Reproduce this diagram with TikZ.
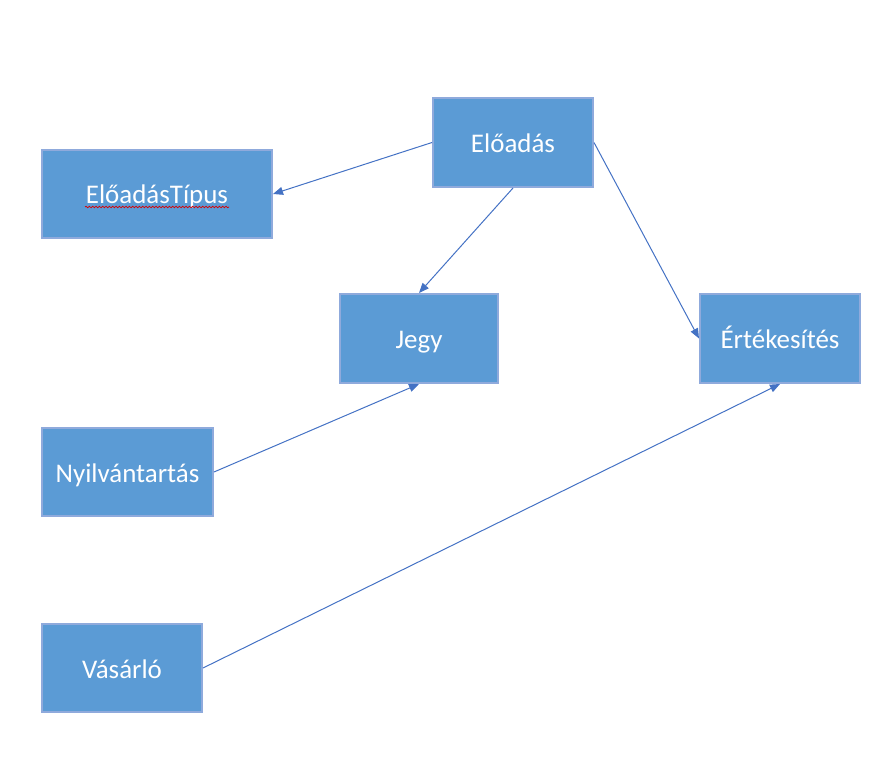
\documentclass[tikz,border=0pt]{standalone}
\usepackage{fontspec}
\setmainfont{Carlito}
\usetikzlibrary{arrows.meta,decorations.pathmorphing}
\definecolor{boxfill}{HTML}{5B9BD5}
\definecolor{boxline}{HTML}{8FAADC}
\definecolor{arrowcol}{HTML}{4472C4}
\begin{document}
\begin{tikzpicture}[x=0.75pt,y=-0.75pt,
  ent/.style={draw=boxline, line width=1.5pt, fill=boxfill, text=white,
    font=\fontsize{20.2}{24}\selectfont, inner sep=0pt, anchor=north west,
    text height=16pt, text depth=1pt},
  conn/.style={draw=arrowcol, line width=0.75pt, -{Triangle[length=7.5pt,width=6pt]}}]
\useasboundingbox (0,0) rectangle (892,766);
\node[ent, minimum width=160*0.75pt, minimum height=89*0.75pt] (eloadas) at (432,97) {Előadás};
\node[ent, minimum width=230*0.75pt, minimum height=88*0.75pt] (tipus) at (41,149) {ElőadásTípus};
\node[ent, minimum width=158*0.75pt, minimum height=89*0.75pt] (jegy) at (339,293) {Jegy};
\node[ent, minimum width=160*0.75pt, minimum height=89*0.75pt] (ert) at (699,293) {Értékesítés};
\node[ent, minimum width=171*0.75pt, minimum height=88*0.75pt] (nyil) at (41,427) {Nyilvántartás};
\node[ent, minimum width=160*0.75pt, minimum height=88*0.75pt] (vas) at (41,623) {Vásárló};
\coordinate (sq1) at (85,207);
\coordinate (sq2) at (229,207);
\draw[red!85!black, line width=0.5pt, decorate, decoration={snake, amplitude=0.6pt, segment length=2.5pt}] (sq1) -- (sq2);
\draw[conn] (eloadas.west) -- (tipus.east);
\draw[conn] (eloadas.south) -- (jegy.north);
\draw[conn] (eloadas.east) -- (ert.west);
\draw[conn] (nyil.east) -- (jegy.south);
\draw[conn] (vas.east) -- (ert.south);
\end{tikzpicture}
\end{document}
